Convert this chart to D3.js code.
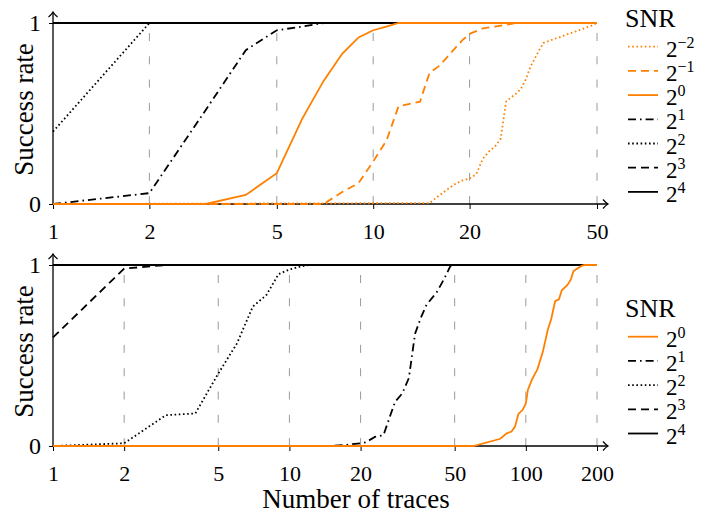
<!DOCTYPE html>
<meta charset="utf-8">
<script src="https://cdn.jsdelivr.net/npm/d3@7"></script>
<style>
    body { margin: 0; padding: 0; background: #fff; }
</style>
<body>
<script>
// success rate vs number of traces, [traces, rate]
const top_m2 = [[1,0],[15,0.005],[16,0.044],[17,0.079],[18,0.11],[19,0.13],[20,0.14],[21,0.166],[22,0.25],[23,0.29],[24,0.317],[25,0.36],[26,0.565],[27,0.59],[28,0.61],[29,0.64],[30,0.69],[31,0.76],[32,0.805],[33,0.85],[34,0.89],[36,0.906],[38,0.92],[40,0.935],[44,0.96],[48,0.985],[50,1]];
const top_m1 = [[1,0],[7,0],[8,0.066],[9,0.115],[10,0.235],[11,0.35],[12,0.54],[13,0.553],[14,0.565],[15,0.725],[16,0.76],[17,0.81],[18,0.86],[19,0.905],[20,0.94],[22,0.97],[24,0.98],[26,0.99],[28,1],[50,1]];
const top_0 = [[1,0],[3,0],[4,0.05],[5,0.17],[6,0.47],[7,0.68],[8,0.83],[9,0.92],[10,0.96],[11,0.98],[12,1],[50,1]];
const top_1 = [[1,0],[2,0.06],[3,0.52],[4,0.85],[5,0.96],[6,0.98],[7,1],[50,1]];
const top_2 = [[1,0.4],[2,1],[50,1]];
const top_3 = [[1,1],[50,1]];
const top_4 = [[1,1],[50,1]];

const bot_0 = [[1,0],[60,0],[78,0.04],[83,0.07],[87,0.08],[90,0.107],[93,0.177],[97,0.2],[100,0.235],[102,0.31],[106,0.365],[112,0.425],[118,0.52],[124,0.645],[128,0.7],[133,0.8],[138,0.81],[142,0.86],[150,0.89],[155,0.92],[159,0.967],[172,0.995],[177,1],[200,1]];
const bot_1 = [[1,0],[15,0],[17,0.005],[20,0.015],[21,0.02],[23,0.05],[25,0.06],[26,0.125],[28,0.245],[30,0.29],[32,0.375],[33,0.5],[34,0.62],[36,0.71],[38,0.78],[42,0.85],[45,0.92],[48,0.995],[50,1],[200,1]];
const bot_2 = [[1,0],[2,0.015],[3,0.17],[4,0.18],[5,0.4],[6,0.567],[7,0.77],[8,0.835],[9,0.95],[10,0.975],[11,0.99],[12,1],[200,1]];
const bot_3 = [[1,0.6],[2,0.98],[3,1],[200,1]];
const bot_4 = [[1,1],[200,1]];

const topTicks = [1, 2, 5, 10, 20, 50];
const botTicks = [1, 2, 5, 10, 20, 50, 100, 200];
const rateTicks = [0, 1];

// line style for each SNR exponent
const styles = {
    '-2': {color: '#ff8000', dash: '1.6 2.6'},
    '-1': {color: '#ff8000', dash: '8 5'},
    '0':  {color: '#ff8000', dash: null},
    '1':  {color: '#000', dash: '8 4 1.6 4'},
    '2':  {color: '#000', dash: '1.6 2.6'},
    '3':  {color: '#000', dash: '8 5'},
    '4':  {color: '#000', dash: null},
};

const serif = 'Liberation Serif';
const width = 706, height = 515;
const svg = d3.select('body').append('svg')
    .attr('width', width)
    .attr('height', height)
    .attr('viewBox', [0, 0, width, height])
    .attr('font-family', serif);

svg.append('defs').append('marker')
    .attr('id', 'arrow')
    .attr('viewBox', '-6 -5 8 10')
    .attr('markerUnits', 'userSpaceOnUse')
    .attr('markerWidth', 8).attr('markerHeight', 10)
    .attr('refX', 0).attr('refY', 0)
    .attr('orient', 'auto')
  .append('path')
    .attr('d', 'M-5,-4.5 Q-2,-1 0,0 Q-2,1 -5,4.5')
    .attr('fill', 'none')
    .attr('stroke', '#000')
    .attr('stroke-width', 1.2);

function panel(opts) {
    const x = d3.scaleLog().domain(opts.xDomain).range([53, 597]);
    const y = d3.scaleLinear().domain([0, 1]).range([opts.y0, opts.y1]);
    const g = svg.append('g');

    // vertical dashed grid
    g.append('g').selectAll('line')
        .data(opts.ticks.filter(d => d > 1))
        .join('line')
            .attr('x1', d => x(d)).attr('x2', d => x(d))
            .attr('y1', opts.y1).attr('y2', opts.y0)
            .attr('stroke', '#9a9a9a')
            .attr('stroke-width', 1)
            .attr('stroke-dasharray', '8 15.3')
            .attr('stroke-dashoffset', 13.3);

    const xAxis = g.append('g')
        .attr('transform', `translate(0,${opts.y0})`)
        .call(d3.axisBottom(x).tickValues(opts.ticks).tickFormat(d3.format('d')).tickSize(5).tickSizeOuter(0))
        .attr('font-family', serif);
    xAxis.select('.domain').remove();
    xAxis.selectAll('text').attr('y', 35).attr('dy', null).attr('font-size', 22);

    const yAxis = g.append('g')
        .attr('transform', 'translate(53,0)')
        .call(d3.axisLeft(y).tickValues(rateTicks).tickFormat(d3.format('d')).tickSize(4).tickSizeOuter(0))
        .attr('font-family', serif);
    yAxis.select('.domain').remove();
    yAxis.selectAll('text').attr('x', -12).attr('font-size', 24);

    g.append('line')
        .attr('x1', 53).attr('x2', 608).attr('y1', opts.y0).attr('y2', opts.y0)
        .attr('stroke', '#000').attr('stroke-width', 1.3)
        .attr('marker-end', 'url(#arrow)');
    g.append('line')
        .attr('x1', 53).attr('x2', 53).attr('y1', opts.y0).attr('y2', opts.y1 - 11)
        .attr('stroke', '#000').attr('stroke-width', 1.3)
        .attr('marker-end', 'url(#arrow)');

    const line = d3.line().x(d => x(d[0])).y(d => y(d[1]));
    const order = opts.series.slice().reverse();
    g.append('g').selectAll('path')
        .data(order)
        .join('path')
            .attr('d', d => line(d.values))
            .attr('fill', 'none')
            .attr('stroke', d => styles[d.snr].color)
            .attr('stroke-width', 1.8)
            .attr('stroke-dasharray', d => styles[d.snr].dash);

    g.append('text')
        .attr('transform', `translate(33,${(opts.y0 + opts.y1) / 2 - 4}) rotate(-90)`)
        .attr('text-anchor', 'middle')
        .attr('font-size', 27)
        .text('Success rate');

    // legend
    const lg = g.append('g');
    lg.append('text')
        .attr('x', 625).attr('y', opts.legendY - 20)
        .attr('font-size', 26)
        .text('SNR');
    const item = lg.selectAll('g.item')
        .data(opts.series)
        .join('g')
            .classed('item', true)
            .attr('transform', (d, i) => `translate(0,${opts.legendY + i * 24.2})`);
    item.append('line')
        .attr('x1', 628).attr('x2', 658)
        .attr('stroke', d => styles[d.snr].color)
        .attr('stroke-width', 1.8)
        .attr('stroke-dasharray', d => styles[d.snr].dash);
    const t = item.append('text')
        .attr('x', 666).attr('y', 10)
        .attr('font-size', 23);
    t.append('tspan').text('2');
    t.append('tspan')
        .attr('dy', -9)
        .attr('font-size', 16)
        .text(d => d.snr.replace('-', '\u2212'));
}

panel({
    xDomain: [1, 50], ticks: topTicks, y0: 204, y1: 23, legendY: 46.7,
    series: [
        {snr: '-2', values: top_m2}, {snr: '-1', values: top_m1}, {snr: '0', values: top_0},
        {snr: '1', values: top_1}, {snr: '2', values: top_2}, {snr: '3', values: top_3},
        {snr: '4', values: top_4}
    ]
});

panel({
    xDomain: [1, 200], ticks: botTicks, y0: 446, y1: 265, legendY: 336.7,
    series: [
        {snr: '0', values: bot_0}, {snr: '1', values: bot_1}, {snr: '2', values: bot_2},
        {snr: '3', values: bot_3}, {snr: '4', values: bot_4}
    ]
});

svg.append('text')
    .attr('x', 356).attr('y', 508)
    .attr('text-anchor', 'middle')
    .attr('font-size', 27)
    .text('Number of traces');
</script>
</body>
